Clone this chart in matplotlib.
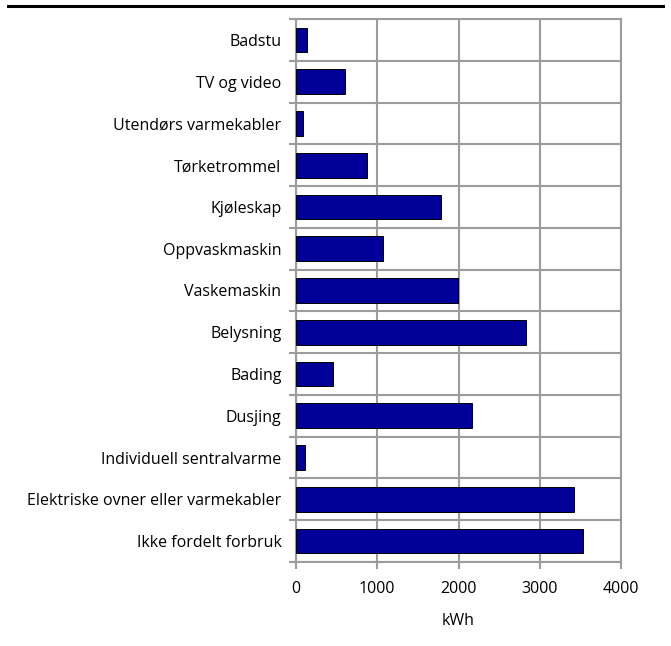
import matplotlib
matplotlib.use("Agg")
import matplotlib.pyplot as plt
from matplotlib.lines import Line2D
import numpy as np

categories = ["Badstu", "TV og video", "Utendørs varmekabler", "Tørketrommel",
              "Kjøleskap", "Oppvaskmaskin", "Vaskemaskin", "Belysning", "Bading",
              "Dusjing", "Individuell sentralvarme",
              "Elektriske ovner eller varmekabler", "Ikke fordelt forbruk"]
values = [132, 600, 86, 878, 1782, 1067, 1995, 2829, 456, 2163, 107, 3420, 3530]
xticks = [0, 1000, 2000, 3000, 4000]
xlabel = "kWh"

plt.rcParams['font.family'] = ['Open Sans', 'DejaVu Sans']

W, H = 671, 646
fig = plt.figure(figsize=(W/100, H/100), dpi=100)
ax = fig.add_axes([296/W, 1-562/H, (621-296)/W, (562-19)/H])

grid_c = "#9c9c9c"
fs = 11.5
n = len(categories)
y = np.arange(n)
ax.barh(y, values, height=0.59, color="#000099", edgecolor="black", linewidth=0.7, zorder=3)
ax.set_ylim(n-0.5, -0.5)
ax.set_xlim(0, 4000)
ax.set_yticks(y)
ax.set_yticklabels(categories, fontsize=fs)
ax.tick_params(axis='y', which='major', length=0, pad=10.5)
ax.set_yticks(np.arange(-0.5, n, 1), minor=True)
ax.tick_params(axis='y', which='minor', length=5, width=1.5, color=grid_c)
ax.set_xticks(xticks)
ax.set_xticklabels([str(t) for t in xticks], fontsize=fs)
ax.tick_params(axis='x', which='major', length=5, width=1.5, color=grid_c, pad=9)
ax.grid(axis='x', which='major', color=grid_c, linewidth=1.5, zorder=1)
ax.grid(axis='y', which='minor', color=grid_c, linewidth=1.5, zorder=1)
for s in ax.spines.values():
    s.set_color(grid_c)
    s.set_linewidth(1.5)
ax.set_xlabel(xlabel, fontsize=fs, labelpad=11)

fig.add_artist(Line2D([8/W, 663/W], [1-5.5/H, 1-5.5/H], color="black", linewidth=2.2,
                      transform=fig.transFigure))

fig.savefig("out.png", dpi=100)
